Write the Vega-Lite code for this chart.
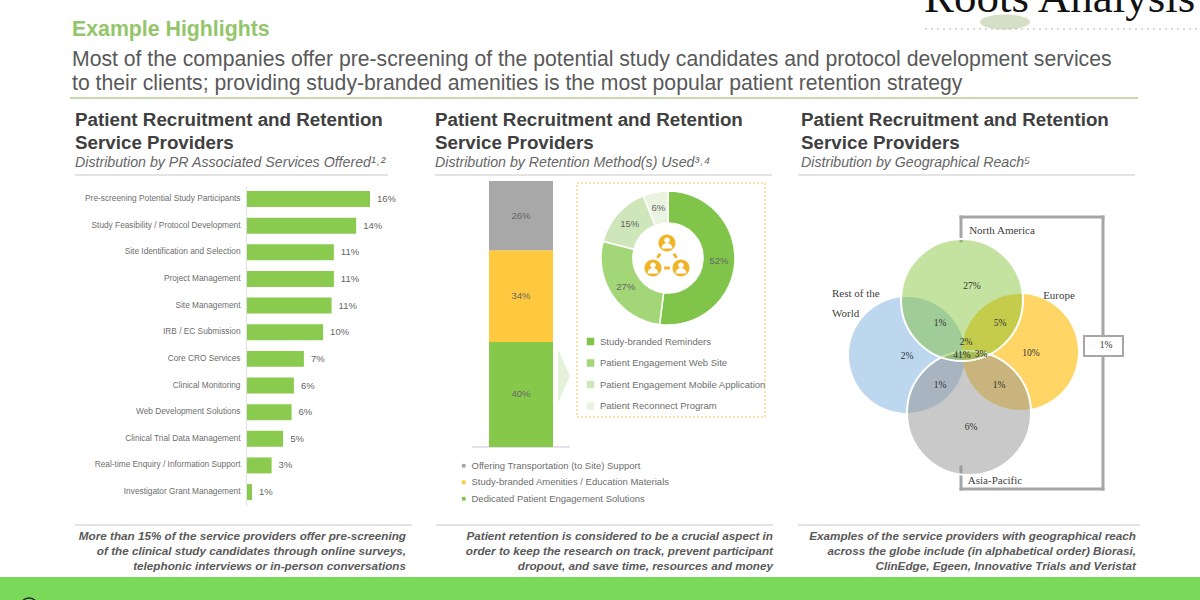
{"$schema":"https://vega.github.io/schema/vega-lite/v6.json","width":1200,"height":600,"padding":0,"autosize":{"type":"none"},"background":"white",
"config":{"font":"Liberation Sans","view":{"stroke":null},"text":{"align":"left","baseline":"alphabetic"}},
"resolve":{"scale":{"x":"independent","y":"independent","color":"independent","theta":"independent"}},
"layer":[
{"data":{"values":[{}]},"layer":[
{"mark":{"type":"rect","color":"#7bd95a"},"encoding":{"x":{"datum":0,"type":"quantitative","axis":null,"scale":{"domain":[0,1200],"range":[0,1200]}},"x2":{"datum":1200},"y":{"datum":577,"type":"quantitative","axis":null,"scale":{"domain":[0,600],"range":[0,600]}},"y2":{"datum":600}}},
{"mark":{"type":"point","filled":false,"opacity":1,"stroke":"#222222","strokeWidth":1.5,"size":324,"shape":"circle"},"encoding":{"x":{"datum":29,"type":"quantitative","axis":null},"y":{"datum":607,"type":"quantitative","axis":null}}},
{"mark":{"type":"rule","color":"#c9dbae","strokeWidth":2},"encoding":{"x":{"datum":70,"type":"quantitative","axis":null},"x2":{"datum":1138},"y":{"datum":98,"type":"quantitative","axis":null}}},
{"mark":{"type":"rule","color":"#c8c8c8","strokeWidth":1},"encoding":{"x":{"datum":75,"type":"quantitative","axis":null},"x2":{"datum":388},"y":{"datum":175,"type":"quantitative","axis":null}}},
{"mark":{"type":"rule","color":"#c8c8c8","strokeWidth":1},"encoding":{"x":{"datum":435,"type":"quantitative","axis":null},"x2":{"datum":772},"y":{"datum":175,"type":"quantitative","axis":null}}},
{"mark":{"type":"rule","color":"#c8c8c8","strokeWidth":1},"encoding":{"x":{"datum":798,"type":"quantitative","axis":null},"x2":{"datum":1135},"y":{"datum":175,"type":"quantitative","axis":null}}},
{"mark":{"type":"rule","color":"#d9d9d9","strokeWidth":1.5},"encoding":{"x":{"datum":75,"type":"quantitative","axis":null},"x2":{"datum":412},"y":{"datum":525,"type":"quantitative","axis":null}}},
{"mark":{"type":"rule","color":"#d9d9d9","strokeWidth":1.5},"encoding":{"x":{"datum":436,"type":"quantitative","axis":null},"x2":{"datum":773},"y":{"datum":525,"type":"quantitative","axis":null}}},
{"mark":{"type":"rule","color":"#d9d9d9","strokeWidth":1.5},"encoding":{"x":{"datum":798,"type":"quantitative","axis":null},"x2":{"datum":1140},"y":{"datum":525,"type":"quantitative","axis":null}}},
{"mark":{"type":"rule","color":"#d9d9e0","strokeWidth":1.5},"encoding":{"x":{"datum":472,"type":"quantitative","axis":null},"x2":{"datum":570},"y":{"datum":447,"type":"quantitative","axis":null}}},
{"mark":{"type":"rect","fillOpacity":0,"stroke":"#f5dc8c","strokeWidth":1.5,"strokeDash":[2,2]},"encoding":{"x":{"datum":577,"type":"quantitative","axis":null},"x2":{"datum":765},"y":{"datum":183,"type":"quantitative","axis":null},"y2":{"datum":417}}},
{"mark":{"type":"point","filled":true,"opacity":1,"color":"#e4f2db","size":2916,"shape":"M -0.22 -1 L 0.22 0 L -0.22 1 Z"},"encoding":{"x":{"datum":564,"type":"quantitative","axis":null},"y":{"datum":376,"type":"quantitative","axis":null}}},
{"mark":{"type":"rule","color":"#a6a6a6","strokeWidth":3,"strokeCap":"square"},"encoding":{"x":{"datum":961,"type":"quantitative","axis":null},"x2":{"datum":1103},"y":{"datum":217,"type":"quantitative","axis":null}}},
{"mark":{"type":"rule","color":"#a6a6a6","strokeWidth":3,"strokeCap":"square"},"encoding":{"x":{"datum":961,"type":"quantitative","axis":null},"x2":{"datum":1103},"y":{"datum":489,"type":"quantitative","axis":null}}},
{"mark":{"type":"rule","color":"#a6a6a6","strokeWidth":3,"strokeCap":"square"},"encoding":{"x":{"datum":1103,"type":"quantitative","axis":null},"y":{"datum":217,"type":"quantitative","axis":null},"y2":{"datum":489}}},
{"mark":{"type":"rule","color":"#a6a6a6","strokeWidth":3,"strokeCap":"square"},"encoding":{"x":{"datum":961,"type":"quantitative","axis":null},"y":{"datum":217,"type":"quantitative","axis":null},"y2":{"datum":241}}},
{"mark":{"type":"rule","color":"#a6a6a6","strokeWidth":3,"strokeCap":"square"},"encoding":{"x":{"datum":961,"type":"quantitative","axis":null},"y":{"datum":467,"type":"quantitative","axis":null},"y2":{"datum":489}}},
{"mark":{"type":"text","fontSize":21.3,"fontWeight":"bold","color":"#93c66b"},"encoding":{"x":{"datum":72,"type":"quantitative","axis":null},"y":{"datum":36,"type":"quantitative","axis":null},"text":{"value":"Example Highlights"}}},
{"mark":{"type":"text","fontSize":21.2,"color":"#595959","lineHeight":24},"encoding":{"x":{"datum":72,"type":"quantitative","axis":null},"y":{"datum":66,"type":"quantitative","axis":null},"text":{"value":["Most of the companies offer pre-screening of the potential study candidates and protocol development services","to their clients; providing study-branded amenities is the most popular patient retention strategy"]}}},
{"mark":{"type":"text","font":"Liberation Serif","fontSize":45,"color":"#111111"},"encoding":{"x":{"datum":924,"type":"quantitative","axis":null},"y":{"datum":12,"type":"quantitative","axis":null},"text":{"value":"Roots Analysis"}}},
{"mark":{"type":"point","filled":true,"opacity":1,"color":"#d5dfc6","size":2500,"shape":"M-1 0A1 .3 0 1 0 1 0A1 .3 0 1 0 -1 0Z"},"encoding":{"x":{"datum":1005,"type":"quantitative","axis":null},"y":{"datum":22,"type":"quantitative","axis":null}}},
{"mark":{"type":"rule","color":"#b5b5b5","strokeWidth":1,"strokeDash":[2,4]},"encoding":{"x":{"datum":925,"type":"quantitative","axis":null},"x2":{"datum":1198},"y":{"datum":29,"type":"quantitative","axis":null}}},
{"mark":{"type":"text","fontSize":18.8,"fontWeight":"bold","color":"#404040","lineHeight":22.5},"encoding":{"x":{"datum":75,"type":"quantitative","axis":null},"y":{"datum":126,"type":"quantitative","axis":null},"text":{"value":["Patient Recruitment and Retention","Service Providers"]}}},
{"mark":{"type":"text","fontSize":18.8,"fontWeight":"bold","color":"#404040","lineHeight":22.5},"encoding":{"x":{"datum":435,"type":"quantitative","axis":null},"y":{"datum":126,"type":"quantitative","axis":null},"text":{"value":["Patient Recruitment and Retention","Service Providers"]}}},
{"mark":{"type":"text","fontSize":18.8,"fontWeight":"bold","color":"#404040","lineHeight":22.5},"encoding":{"x":{"datum":801,"type":"quantitative","axis":null},"y":{"datum":126,"type":"quantitative","axis":null},"text":{"value":["Patient Recruitment and Retention","Service Providers"]}}},
{"mark":{"type":"text","fontSize":14.2,"fontStyle":"italic","color":"#666666"},"encoding":{"x":{"datum":75,"type":"quantitative","axis":null},"y":{"datum":167,"type":"quantitative","axis":null},"text":{"value":"Distribution by PR Associated Services Offered¹˒²"}}},
{"mark":{"type":"text","fontSize":14.2,"fontStyle":"italic","color":"#666666"},"encoding":{"x":{"datum":435,"type":"quantitative","axis":null},"y":{"datum":167,"type":"quantitative","axis":null},"text":{"value":"Distribution by Retention Method(s) Used³˒⁴"}}},
{"mark":{"type":"text","fontSize":14.2,"fontStyle":"italic","color":"#666666"},"encoding":{"x":{"datum":801,"type":"quantitative","axis":null},"y":{"datum":167,"type":"quantitative","axis":null},"text":{"value":"Distribution by Geographical Reach⁵"}}},
{"mark":{"type":"text","align":"right","fontSize":11.7,"fontStyle":"italic","fontWeight":"bold","color":"#595959","lineHeight":15},"encoding":{"x":{"datum":406,"type":"quantitative","axis":null},"y":{"datum":540,"type":"quantitative","axis":null},"text":{"value":["More than 15% of the service providers offer pre-screening","of the clinical study candidates through online surveys,","telephonic interviews or in-person conversations"]}}},
{"mark":{"type":"text","align":"right","fontSize":11.7,"fontStyle":"italic","fontWeight":"bold","color":"#595959","lineHeight":15},"encoding":{"x":{"datum":773,"type":"quantitative","axis":null},"y":{"datum":540,"type":"quantitative","axis":null},"text":{"value":["Patient retention is considered to be a crucial aspect in","order to keep the research on track, prevent participant","dropout, and save time, resources and money"]}}},
{"mark":{"type":"text","align":"right","fontSize":11.7,"fontStyle":"italic","fontWeight":"bold","color":"#595959","lineHeight":15},"encoding":{"x":{"datum":1136,"type":"quantitative","axis":null},"y":{"datum":540,"type":"quantitative","axis":null},"text":{"value":["Examples of the service providers with geographical reach","across the globe include (in alphabetical order) Biorasi,","ClinEdge, Egeen, Innovative Trials and Veristat"]}}}
]},
{"data":{"values":[
{"service":"Pre-screening Potential Study Participants","share":0.16},
{"service":"Study Feasibility / Protocol Development","share":0.142},
{"service":"Site Identification and Selection","share":0.113},
{"service":"Project Management","share":0.113},
{"service":"Site Management","share":0.11},
{"service":"IRB / EC Submission","share":0.099},
{"service":"Core CRO Services","share":0.074},
{"service":"Clinical Monitoring","share":0.061},
{"service":"Web Development Solutions","share":0.058},
{"service":"Clinical Trial Data Management","share":0.047},
{"service":"Real-time Enquiry / Information Support","share":0.032},
{"service":"Investigator Grant Management","share":0.0065}]},
"encoding":{"y":{"field":"service","type":"nominal","sort":null,"title":null,"scale":{"range":[185.7,505.4],"paddingInner":0.4,"paddingOuter":0.2},"axis":{"offset":-246,"ticks":false,"labelFontSize":8.3,"labelColor":"#6e6e6e","labelPadding":6,"labelLimit":300,"domainColor":"#dfe3e6","grid":false}},
"x":{"field":"share","type":"quantitative","axis":null,"scale":{"domain":[0,0.16],"range":[247,370]}}},
"layer":[{"mark":{"type":"bar","color":"#8aca4e"}},
{"mark":{"type":"text","align":"left","baseline":"middle","dx":7,"fontSize":9.5,"color":"#666666"},"encoding":{"text":{"field":"share","type":"quantitative","format":".0%"}}}]},
{"data":{"values":[
{"method":"Dedicated Patient Engagement Solutions","share":0.395,"label":"40%","rank":1},
{"method":"Study-branded Amenities / Education Materials","share":0.345,"label":"34%","rank":2},
{"method":"Offering Transportation (to Site) Support","share":0.26,"label":"26%","rank":3}]},
"encoding":{"x":{"datum":"Retention","type":"nominal","axis":null,"scale":{"range":[489,553],"paddingInner":0,"paddingOuter":0}},
"y":{"field":"share","type":"quantitative","stack":"zero","axis":null,"scale":{"domain":[0,1],"range":[447,181]}},
"order":{"field":"rank"}},
"layer":[{"mark":{"type":"bar"},"encoding":{"color":{"field":"method","type":"nominal","scale":{"domain":["Offering Transportation (to Site) Support","Study-branded Amenities / Education Materials","Dedicated Patient Engagement Solutions"],"range":["#a8a8a8","#ffc93f","#86c94a"]},"legend":{"orient":"none","legendX":459,"legendY":461,"title":null,"symbolType":"square","symbolSize":14,"labelFontSize":9.5,"labelColor":"#6e6e6e","labelOffset":3,"rowPadding":5.5,"labelLimit":300}}}},
{"mark":{"type":"text","align":"center","baseline":"middle","fontSize":9.5,"color":"#666666"},"encoding":{"y":{"field":"share","type":"quantitative","stack":"zero","bandPosition":0.5},"text":{"field":"label"}}}]},
{"data":{"values":[
{"program":"Study-branded Reminders","share":0.52,"rank":1},
{"program":"Patient Engagement Web Site","share":0.27,"rank":2},
{"program":"Patient Engagement Mobile Application","share":0.15,"rank":3},
{"program":"Patient Reconnect Program","share":0.06,"rank":4}]},
"encoding":{"x":{"datum":668,"type":"quantitative","axis":null,"scale":{"domain":[0,1200],"range":[0,1200]}},
"y":{"datum":258,"type":"quantitative","axis":null,"scale":{"domain":[0,600],"range":[0,600]}},
"theta":{"field":"share","type":"quantitative","stack":true},"order":{"field":"rank"}},
"layer":[{"mark":{"type":"arc","innerRadius":35,"outerRadius":67,"stroke":"white","strokeWidth":1.5},"encoding":{"color":{"field":"program","type":"nominal","scale":{"domain":["Study-branded Reminders","Patient Engagement Web Site","Patient Engagement Mobile Application","Patient Reconnect Program"],"range":["#80c54a","#a2d677","#cfe6bb","#e9f3e0"]},"legend":{"orient":"none","legendX":585,"legendY":336,"title":null,"symbolType":"square","symbolSize":81,"labelFontSize":9.5,"labelColor":"#6e6e6e","labelOffset":4,"rowPadding":6.5,"labelLimit":300}}}},
{"mark":{"type":"text","radius":51,"align":"center","baseline":"middle","fontSize":9.5,"color":"#666666"},"encoding":{"text":{"field":"share","type":"quantitative","format":".0%"}}}]},
{"layer":[
{"data":{"values":[{"region":"Rest of the World"}]},"mark":{"type":"circle","opacity":1,"color":"#bcd7ee","size":13456},"encoding":{"x":{"datum":907,"type":"quantitative","axis":null,"scale":{"domain":[0,1200],"range":[0,1200]}},"y":{"datum":355,"type":"quantitative","axis":null,"scale":{"domain":[0,600],"range":[0,600]}}}},
{"data":{"values":[{"region":"Europe"}]},"mark":{"type":"circle","opacity":1,"color":"#ffd566","size":13456},"encoding":{"x":{"datum":1020,"type":"quantitative","axis":null},"y":{"datum":352,"type":"quantitative","axis":null}}},
{"data":{"values":[{"region":"Asia-Pacific"}]},"mark":{"type":"circle","fillOpacity":0.5,"color":"#939393","stroke":"white","strokeWidth":2,"strokeOpacity":1,"size":15376},"encoding":{"x":{"datum":969,"type":"quantitative","axis":null},"y":{"datum":413,"type":"quantitative","axis":null}}},
{"data":{"values":[{"region":"North America"}]},"mark":{"type":"circle","fillOpacity":0.45,"color":"#7ec12c","stroke":"white","strokeWidth":2,"strokeOpacity":1,"size":14884},"encoding":{"x":{"datum":962,"type":"quantitative","axis":null},"y":{"datum":300,"type":"quantitative","axis":null}}},
{"data":{"values":[{}]},"mark":{"type":"rect","color":"white","stroke":"#a6a6a6","strokeWidth":2},"encoding":{"x":{"datum":1084,"type":"quantitative","axis":null},"x2":{"datum":1123},"y":{"datum":336,"type":"quantitative","axis":null},"y2":{"datum":356}}},
{"data":{"values":[{"region":"North America only","share":0.27}]},"mark":{"type":"text","font":"Liberation Serif","align":"center","baseline":"middle","fontSize":9.5,"color":"#333333"},"encoding":{"x":{"datum":972,"type":"quantitative","axis":null},"y":{"datum":286,"type":"quantitative","axis":null},"text":{"field":"share","type":"quantitative","format":".0%"}}},
{"data":{"values":[{"region":"North America and Rest of the World","share":0.01}]},"mark":{"type":"text","font":"Liberation Serif","align":"center","baseline":"middle","fontSize":9.5,"color":"#333333"},"encoding":{"x":{"datum":940,"type":"quantitative","axis":null},"y":{"datum":323,"type":"quantitative","axis":null},"text":{"field":"share","type":"quantitative","format":".0%"}}},
{"data":{"values":[{"region":"North America and Europe","share":0.05}]},"mark":{"type":"text","font":"Liberation Serif","align":"center","baseline":"middle","fontSize":9.5,"color":"#333333"},"encoding":{"x":{"datum":1000,"type":"quantitative","axis":null},"y":{"datum":323,"type":"quantitative","axis":null},"text":{"field":"share","type":"quantitative","format":".0%"}}},
{"data":{"values":[{"region":"North America, Europe and Rest of the World","share":0.02}]},"mark":{"type":"text","font":"Liberation Serif","align":"center","baseline":"middle","fontSize":9.5,"color":"#333333"},"encoding":{"x":{"datum":966,"type":"quantitative","axis":null},"y":{"datum":342,"type":"quantitative","axis":null},"text":{"field":"share","type":"quantitative","format":".0%"}}},
{"data":{"values":[{"region":"All four regions","share":0.41}]},"mark":{"type":"text","font":"Liberation Serif","align":"center","baseline":"middle","fontSize":9.5,"color":"#333333"},"encoding":{"x":{"datum":962,"type":"quantitative","axis":null},"y":{"datum":355,"type":"quantitative","axis":null},"text":{"field":"share","type":"quantitative","format":".0%"}}},
{"data":{"values":[{"region":"North America, Europe and Asia-Pacific","share":0.03}]},"mark":{"type":"text","font":"Liberation Serif","align":"center","baseline":"middle","fontSize":9.5,"color":"#333333"},"encoding":{"x":{"datum":981,"type":"quantitative","axis":null},"y":{"datum":354,"type":"quantitative","axis":null},"text":{"field":"share","type":"quantitative","format":".0%"}}},
{"data":{"values":[{"region":"Rest of the World only","share":0.02}]},"mark":{"type":"text","font":"Liberation Serif","align":"center","baseline":"middle","fontSize":9.5,"color":"#333333"},"encoding":{"x":{"datum":907,"type":"quantitative","axis":null},"y":{"datum":356,"type":"quantitative","axis":null},"text":{"field":"share","type":"quantitative","format":".0%"}}},
{"data":{"values":[{"region":"Europe only","share":0.10}]},"mark":{"type":"text","font":"Liberation Serif","align":"center","baseline":"middle","fontSize":9.5,"color":"#333333"},"encoding":{"x":{"datum":1031,"type":"quantitative","axis":null},"y":{"datum":353,"type":"quantitative","axis":null},"text":{"field":"share","type":"quantitative","format":".0%"}}},
{"data":{"values":[{"region":"Asia-Pacific and Rest of the World","share":0.01}]},"mark":{"type":"text","font":"Liberation Serif","align":"center","baseline":"middle","fontSize":9.5,"color":"#333333"},"encoding":{"x":{"datum":940,"type":"quantitative","axis":null},"y":{"datum":385,"type":"quantitative","axis":null},"text":{"field":"share","type":"quantitative","format":".0%"}}},
{"data":{"values":[{"region":"Asia-Pacific and Europe","share":0.01}]},"mark":{"type":"text","font":"Liberation Serif","align":"center","baseline":"middle","fontSize":9.5,"color":"#333333"},"encoding":{"x":{"datum":999,"type":"quantitative","axis":null},"y":{"datum":385,"type":"quantitative","axis":null},"text":{"field":"share","type":"quantitative","format":".0%"}}},
{"data":{"values":[{"region":"Asia-Pacific only","share":0.06}]},"mark":{"type":"text","font":"Liberation Serif","align":"center","baseline":"middle","fontSize":9.5,"color":"#333333"},"encoding":{"x":{"datum":971,"type":"quantitative","axis":null},"y":{"datum":427,"type":"quantitative","axis":null},"text":{"field":"share","type":"quantitative","format":".0%"}}},
{"data":{"values":[{"region":"North America and Asia-Pacific","share":0.01}]},"mark":{"type":"text","font":"Liberation Serif","align":"center","baseline":"middle","fontSize":9.5,"color":"#333333"},"encoding":{"x":{"datum":1106,"type":"quantitative","axis":null},"y":{"datum":345,"type":"quantitative","axis":null},"text":{"field":"share","type":"quantitative","format":".0%"}}},
{"data":{"values":[{}]},"mark":{"type":"text","font":"Liberation Serif","align":"center","fontSize":11,"color":"#404040"},"encoding":{"x":{"datum":1002,"type":"quantitative","axis":null},"y":{"datum":234,"type":"quantitative","axis":null},"text":{"value":"North America"}}},
{"data":{"values":[{}]},"mark":{"type":"text","font":"Liberation Serif","fontSize":11,"color":"#404040","lineHeight":19.5},"encoding":{"x":{"datum":832,"type":"quantitative","axis":null},"y":{"datum":297,"type":"quantitative","axis":null},"text":{"value":["Rest of the","World"]}}},
{"data":{"values":[{}]},"mark":{"type":"text","font":"Liberation Serif","align":"center","fontSize":11,"color":"#404040"},"encoding":{"x":{"datum":1059,"type":"quantitative","axis":null},"y":{"datum":299,"type":"quantitative","axis":null},"text":{"value":"Europe"}}},
{"data":{"values":[{}]},"mark":{"type":"text","font":"Liberation Serif","align":"center","fontSize":11,"color":"#404040"},"encoding":{"x":{"datum":995,"type":"quantitative","axis":null},"y":{"datum":484,"type":"quantitative","axis":null},"text":{"value":"Asia-Pacific"}}},
{"data":{"values":[{}]},"mark":{"type":"point","filled":true,"opacity":1,"color":"#f0b428","size":1600,"shape":"M-.425 -.6A.425 .425 0 1 0 .425 -.6A.425 .425 0 1 0 -.425 -.6ZM-1.125 .65A.425 .425 0 1 0 -.275 .65A.425 .425 0 1 0 -1.125 .65ZM.275 .65A.425 .425 0 1 0 1.125 .65A.425 .425 0 1 0 .275 .65ZM-.14 .58H.14V.72H-.14ZM-.4 -.1L-.28 -.03L-.42 .18L-.54 .11ZM.4 -.1L.28 -.03L.42 .18L.54 .11Z"},"encoding":{"x":{"datum":667,"type":"quantitative","axis":null},"y":{"datum":255,"type":"quantitative","axis":null}}},
{"data":{"values":[{}]},"mark":{"type":"point","filled":true,"opacity":1,"color":"white","size":1600,"shape":"M-.14 -.74A.14 .14 0 1 0 .14 -.74A.14 .14 0 1 0 -.14 -.74ZM-.27 -.33A.27 .27 0 0 1 .27 -.33ZM-.84 .51A.14 .14 0 1 0 -.56 .51A.14 .14 0 1 0 -.84 .51ZM-.97 .92A.27 .27 0 0 1 -.43 .92ZM.56 .51A.14 .14 0 1 0 .84 .51A.14 .14 0 1 0 .56 .51ZM.43 .92A.27 .27 0 0 1 .97 .92Z"},"encoding":{"x":{"datum":667,"type":"quantitative","axis":null},"y":{"datum":255,"type":"quantitative","axis":null}}}
]}
]}
